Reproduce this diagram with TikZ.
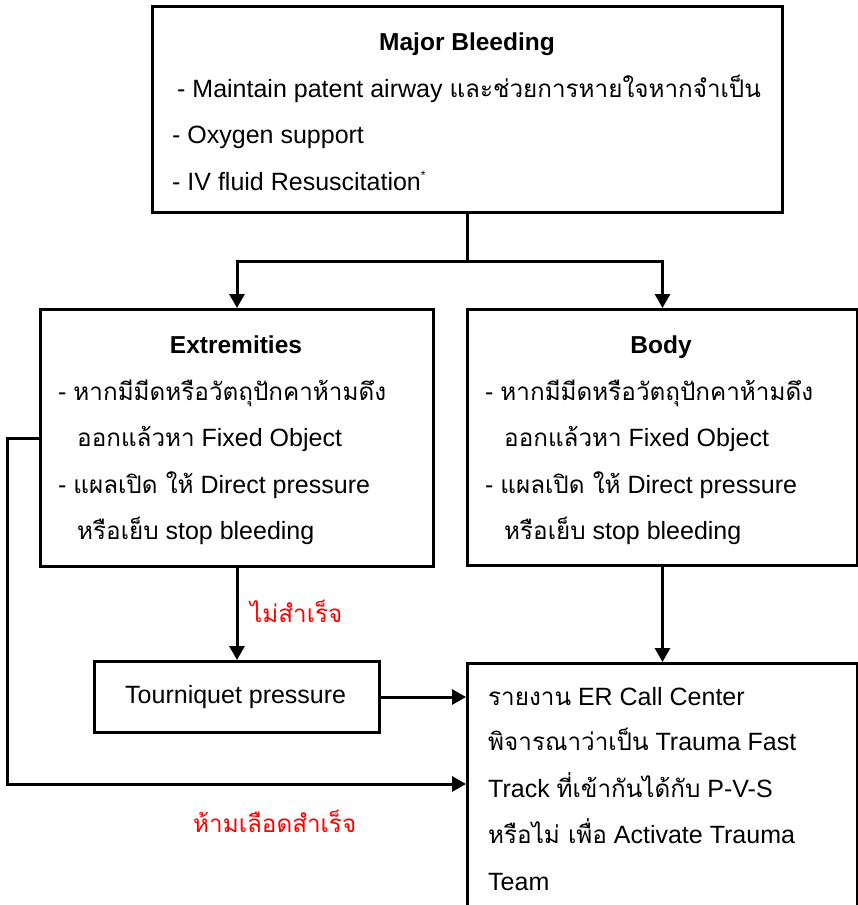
\documentclass[tikz,border=0pt]{standalone}
\usepackage{fontspec}
\setmainfont{Liberation Sans}
\newfontfamily\thaifont[Script=Thai,Scale=0.97]{Loma}
\newcommand{\tha}[1]{{\thaifont #1}}
\usetikzlibrary{arrows.meta}
\begin{document}
\begin{tikzpicture}[x=1pt,y=-1pt,
  every node/.style={font=\fontsize{25}{25}\selectfont, inner sep=0pt},
  box/.style={draw, line width=3pt, rectangle, anchor=north west},
  line/.style={anchor=base west},
  title/.style={anchor=base, font=\fontsize{24.5}{25}\selectfont\bfseries},
  redlbl/.style={anchor=base west, text=red},
  conn/.style={line width=3pt},
  arr/.style={line width=3pt, -{Triangle[width=15pt,length=14pt]}}]
\clip (0,0) rectangle (858,905);

% boxes
\node[box, minimum width=630pt, minimum height=206pt] (top) at (151,5) {};
\node[box, minimum width=393pt, minimum height=257pt] (ext) at (39,308) {};
\node[box, minimum width=390pt, minimum height=256pt] (body) at (466,308) {};
\node[box, minimum width=285pt, minimum height=71pt] (tq) at (93,660) {};
\node[box, minimum width=390pt, minimum height=280pt] (er) at (466,662) {};

% top box text
\node[title] (t0) at (467,50) {Major Bleeding};
\node[line] (t1) at (177,97) {- Maintain patent airway \tha{และช่วยการหายใจหากจำเป็น}};
\node[line] (t2) at (172,143) {- Oxygen support};
\node[line] (t3) at (172,190) {- IV fluid Resuscitation\raisebox{11pt}{\fontsize{12}{12}\selectfont *}};

% extremities box text
\node[title] (e0) at (236,353) {Extremities};
\node[line] (e1) at (58,400) {- \tha{หากมีมีดหรือวัตถุปักคาห้ามดึง}};
\node[line] (e2) at (77,446) {\tha{ออกแล้วหา} Fixed Object};
\node[line] (e3) at (58,493) {- \tha{แผลเปิด ให้} Direct pressure};
\node[line] (e4) at (77,539) {\tha{หรือเย็บ} stop bleeding};

% body box text
\node[title] (b0) at (661,353) {Body};
\node[line] (b1) at (485,400) {- \tha{หากมีมีดหรือวัตถุปักคาห้ามดึง}};
\node[line] (b2) at (504,446) {\tha{ออกแล้วหา} Fixed Object};
\node[line] (b3) at (485,493) {- \tha{แผลเปิด ให้} Direct pressure};
\node[line] (b4) at (504,539) {\tha{หรือเย็บ} stop bleeding};

% tourniquet text
\node[line] (q0) at (125,703) {Tourniquet pressure};

% ER box text
\node[line] (r1) at (488,705) {\tha{รายงาน} ER Call Center};
\node[line] (r2) at (488,750) {\tha{พิจารณาว่าเป็น} Trauma Fast};
\node[line] (r3) at (488,797) {Track \tha{ที่เข้ากันได้กับ} P-V-S};
\node[line] (r4) at (488,843) {\tha{หรือไม่ เพื่อ} Activate Trauma};
\node[line] (r5) at (488,890) {Team};

% red labels
\node[redlbl] (fail) at (250,622) {\tha{ไม่สำเร็จ}};
\node[redlbl] (ok) at (193,832) {\tha{ห้ามเลือดสำเร็จ}};

% connectors
\draw[conn] (top.south) -- ++(0,47) coordinate (split);
\draw[arr] (split) -| (ext.north);
\draw[arr] (split) -| (body.north);
\draw[arr] (ext.south) -- (tq.north);
\draw[arr] (body.south) -- (er.north);
\draw[arr] (tq.east) -- (tq.east -| er.west);
\coordinate (loopend) at (466,784);
\draw[arr] (ext.west) -- ++(-32,0) |- (loopend);
\end{tikzpicture}
\end{document}
